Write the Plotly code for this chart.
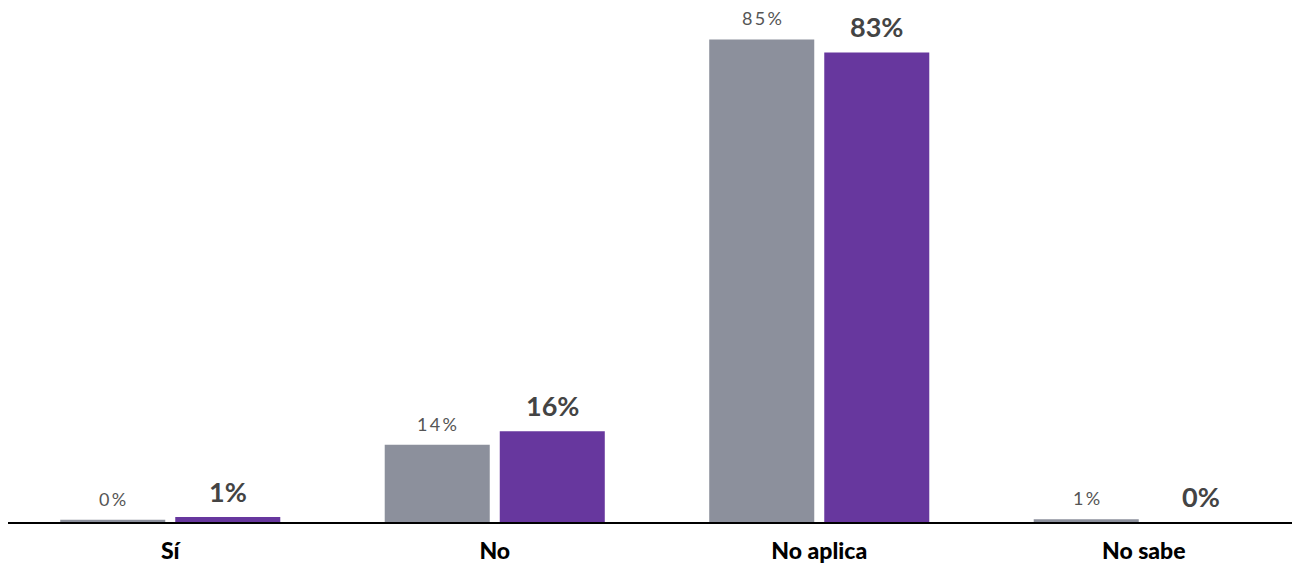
import plotly.graph_objects as go

categories = ["Sí", "No", "No aplica", "No sabe"]
gray_values = [0.4, 13.6, 85.0, 0.5]
purple_values = [0.9, 16.0, 82.7, 0.0]
gray_labels = ["0%", "14%", "85%", "1%"]
purple_labels = ["1%", "16%", "83%", "0%"]

GRAY = "#8c909c"
PURPLE = "#67379e"

fig = go.Figure()
fig.add_trace(go.Bar(x=categories, y=gray_values, marker_color=GRAY, marker_line_width=0,
                     hoverinfo="skip", name="A"))
fig.add_trace(go.Bar(x=categories, y=purple_values, marker_color=PURPLE, marker_line_width=0,
                     hoverinfo="skip", name="B"))

def spaced(s):
    return "\u2009".join(list(s))

for i, c in enumerate(categories):
    fig.add_annotation(x=c, y=gray_values[i], text=spaced(gray_labels[i]), showarrow=False,
                       xshift=-57.5, yshift=8, yanchor="bottom",
                       font=dict(family="Lato", size=18, color="#555555"))
    fig.add_annotation(x=c, y=purple_values[i], text="<b>" + purple_labels[i] + "</b>", showarrow=False,
                       xshift=57.5, yshift=7, yanchor="bottom",
                       font=dict(family="Lato", size=27, color="#444444"))

fig.update_layout(
    width=1292, height=556,
    margin=dict(l=0, r=0, t=3, b=42),
    plot_bgcolor="white", paper_bgcolor="white",
    barmode="group", bargap=0.291, bargroupgap=0.087,
    showlegend=False,
    font=dict(family="Lato"),
)
fig.update_xaxes(type="category", range=[-0.5, 3.4815], showline=True, linecolor="black",
                 linewidth=1.5, showgrid=False, ticks="", ticklabelstandoff=8, automargin=False,
                 tickfont=dict(family="Lato", size=23, color="black", weight=900))
fig.update_yaxes(range=[0, 90], showgrid=False, showticklabels=False, zeroline=False, visible=False)

fig.write_html("out.html")
